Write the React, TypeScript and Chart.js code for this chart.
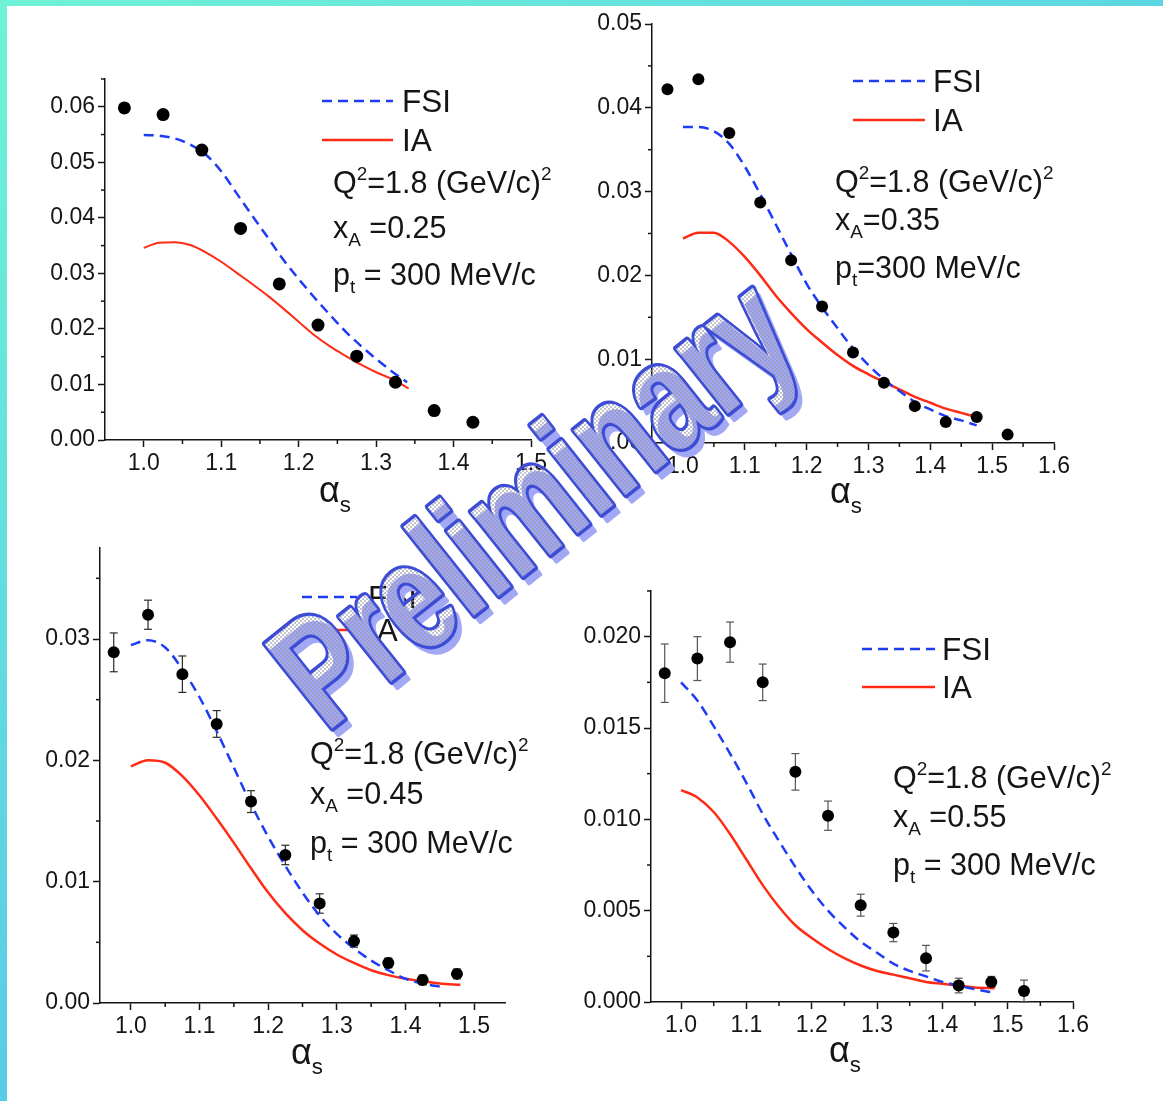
import { useEffect, useRef } from 'react';
import { Chart, registerables } from 'chart.js';

Chart.register(...registerables);

const PAGE_W = 1163;
const PAGE_H = 1101;
const FONT = '"Liberation Sans", Arial, Helvetica, sans-serif';
const BLUE = '#1f3cf5';
const RED = '#ff2b14';
const INK = '#151515';

const TICK_SIZE = 23;
const LEGEND_SIZE = 31.5;
const NOTE_SIZE = 30.5;
const TITLE_SIZE = 36;

// Shared labels
const seriesNames = ['FSI', 'IA'];
const q2Value = '1.8';
const ptValue = '300';
const xAValues = ['0.25', '0.35', '0.45', '0.55'];
const watermarkText = 'Preliminary';

// x_A = 0.25 : data points
const aDataX = [0.975, 1.025, 1.075, 1.125, 1.175, 1.225, 1.275, 1.325, 1.375, 1.425];
const aDataY = [0.0598, 0.0586, 0.0522, 0.0381, 0.0281, 0.0207, 0.0151, 0.0104, 0.0053, 0.0032];
// x_A = 0.25 : FSI curve
const aFsiX = [1.0, 1.02, 1.04, 1.06, 1.08, 1.1, 1.12, 1.14, 1.16, 1.18, 1.2, 1.22, 1.24, 1.26, 1.28, 1.3, 1.32, 1.34];
const aFsiY = [0.0549, 0.0548, 0.0543, 0.0532, 0.0514, 0.0484, 0.0444, 0.0404, 0.0365, 0.0325, 0.029, 0.0257, 0.0226, 0.0196, 0.017, 0.0146, 0.0124, 0.0104];
// x_A = 0.25 : IA curve
const aIaX = [1.0, 1.02, 1.04, 1.06, 1.08, 1.1, 1.12, 1.14, 1.16, 1.18, 1.2, 1.22, 1.24, 1.26, 1.28, 1.3, 1.32, 1.342];
const aIaY = [0.0346, 0.0355, 0.0356, 0.0351, 0.0338, 0.0321, 0.0301, 0.0281, 0.026, 0.0237, 0.0213, 0.0189, 0.0169, 0.0152, 0.0136, 0.0122, 0.011, 0.0093];

// x_A = 0.35
const bDataX = [0.975, 1.025, 1.075, 1.125, 1.175, 1.225, 1.275, 1.325, 1.375, 1.425, 1.475, 1.525];
const bDataY = [0.0422, 0.0434, 0.037, 0.0287, 0.0218, 0.0163, 0.0108, 0.0072, 0.0044, 0.0025, 0.0031, 0.001];
const bFsiX = [1.0, 1.025, 1.05, 1.075, 1.1, 1.125, 1.15, 1.175, 1.2, 1.225, 1.25, 1.275, 1.3, 1.325, 1.35, 1.375, 1.4, 1.425, 1.45, 1.475];
const bFsiY = [0.0377, 0.0377, 0.0372, 0.0357, 0.033, 0.0297, 0.0261, 0.0225, 0.019, 0.0162, 0.0137, 0.0113, 0.0093, 0.0076, 0.0062, 0.0049, 0.004, 0.0032, 0.0027, 0.0021];
const bIaX = [1.0, 1.025, 1.05, 1.075, 1.1, 1.125, 1.15, 1.175, 1.2, 1.225, 1.25, 1.275, 1.3, 1.325, 1.35, 1.375, 1.4, 1.425, 1.45, 1.475];
const bIaY = [0.0244, 0.0251, 0.0251, 0.024, 0.0222, 0.02, 0.0176, 0.0155, 0.0136, 0.012, 0.0105, 0.0092, 0.0082, 0.0073, 0.0064, 0.0055, 0.0048, 0.0041, 0.0036, 0.0031];

// x_A = 0.45
const cDataX = [0.975, 1.025, 1.075, 1.125, 1.175, 1.225, 1.275, 1.325, 1.375, 1.425, 1.475];
const cDataY = [0.0289, 0.032, 0.0271, 0.023, 0.0166, 0.0122, 0.0082, 0.0051, 0.0033, 0.0019, 0.0024];
const cDataErr = [0.0016, 0.0012, 0.0015, 0.0011, 0.0009, 0.0008, 0.0008, 0.0005, 0.0004, 0.0004, 0.0004];
const cFsiX = [1.0, 1.025, 1.05, 1.075, 1.1, 1.125, 1.15, 1.175, 1.2, 1.225, 1.25, 1.275, 1.3, 1.325, 1.35, 1.375, 1.4, 1.425, 1.455];
const cFsiY = [0.0295, 0.0299, 0.0293, 0.0275, 0.0252, 0.0224, 0.0194, 0.0164, 0.0137, 0.0113, 0.0091, 0.0072, 0.0057, 0.0045, 0.0035, 0.0027, 0.002, 0.0016, 0.0013];
const cIaX = [1.0, 1.025, 1.05, 1.075, 1.1, 1.125, 1.15, 1.175, 1.2, 1.225, 1.25, 1.275, 1.3, 1.325, 1.35, 1.375, 1.4, 1.425, 1.45, 1.48];
const cIaY = [0.0195, 0.02, 0.0198, 0.0187, 0.0171, 0.0152, 0.0132, 0.0111, 0.0091, 0.0074, 0.006, 0.0049, 0.004, 0.0033, 0.0027, 0.0023, 0.002, 0.0018, 0.0016, 0.0015];

// x_A = 0.55
const dDataX = [0.975, 1.025, 1.075, 1.125, 1.175, 1.225, 1.275, 1.325, 1.375, 1.425, 1.475, 1.525];
const dDataY = [0.018, 0.0188, 0.0197, 0.0175, 0.0126, 0.0102, 0.0053, 0.0038, 0.0024, 0.0009, 0.0011, 0.0006];
const dDataErr = [0.0016, 0.0012, 0.0011, 0.001, 0.001, 0.0008, 0.0006, 0.0005, 0.0007, 0.0004, 0.0003, 0.0006];
const dFsiX = [1.0, 1.025, 1.05, 1.075, 1.1, 1.125, 1.15, 1.175, 1.2, 1.225, 1.25, 1.275, 1.3, 1.325, 1.35, 1.375, 1.4, 1.425, 1.45, 1.48];
const dFsiY = [0.0175, 0.0165, 0.0151, 0.0136, 0.012, 0.0103, 0.0088, 0.0074, 0.0061, 0.005, 0.0041, 0.0033, 0.0027, 0.0021, 0.0017, 0.0014, 0.0011, 0.0009, 0.0007, 0.0005];
const dIaX = [1.0, 1.025, 1.05, 1.075, 1.1, 1.125, 1.15, 1.175, 1.2, 1.225, 1.25, 1.275, 1.3, 1.325, 1.35, 1.375, 1.4, 1.425, 1.45, 1.48];
const dIaY = [0.0116, 0.0112, 0.0104, 0.0092, 0.0078, 0.0064, 0.0052, 0.0042, 0.0035, 0.0029, 0.0024, 0.002, 0.0017, 0.0015, 0.0013, 0.0011, 0.001, 0.0009, 0.0008, 0.00075];

type Seg = { t: string; sub?: boolean; sup?: boolean };

interface Panel {
  left: number; top: number; right: number; bottom: number;
  xMin: number; xMax: number; yMax: number; yStep: number; yDigits: number;
  dataX: number[]; dataY: number[]; err?: number[]; errColor?: string;
  fsiX: number[]; fsiY: number[]; iaX: number[]; iaY: number[];
  radius: number; iaWidth: number;
  legend: { x1: number; x2: number; tx: number; yF: number; yI: number };
  notes: { x: number; base: number[]; lines: Seg[][] };
  title: { cx: number; base: number };
}

function noteLines(xA: string, compact: boolean): Seg[][] {
  const gap = compact ? '' : ' ';
  return [
    [{ t: 'Q' }, { t: '2', sup: true }, { t: `=${q2Value} (GeV/c)` }, { t: '2', sup: true }],
    [{ t: 'x' }, { t: 'A', sub: true }, { t: `${gap}=${xA}` }],
    [{ t: 'p' }, { t: 't', sub: true }, { t: `${gap}=${gap}${ptValue} MeV/c` }],
  ];
}

const panels: Panel[] = [
  {
    left: 105, top: 79, right: 531, bottom: 440,
    xMin: 0.95, xMax: 1.5, yMax: 0.065, yStep: 0.01, yDigits: 2,
    dataX: aDataX, dataY: aDataY, fsiX: aFsiX, fsiY: aFsiY, iaX: aIaX, iaY: aIaY,
    radius: 6.5, iaWidth: 2,
    legend: { x1: 322, x2: 393, tx: 402, yF: 101, yI: 140 },
    notes: { x: 333, base: [193, 238, 285], lines: noteLines(xAValues[0], false) },
    title: { cx: 335, base: 502 },
  },
  {
    left: 652, top: 24, right: 1054, bottom: 443,
    xMin: 0.95, xMax: 1.6, yMax: 0.05, yStep: 0.01, yDigits: 2,
    dataX: bDataX, dataY: bDataY, fsiX: bFsiX, fsiY: bFsiY, iaX: bIaX, iaY: bIaY,
    radius: 6, iaWidth: 2.5,
    legend: { x1: 853, x2: 925, tx: 933, yF: 81, yI: 120 },
    notes: { x: 835, base: [192, 230, 278], lines: noteLines(xAValues[1], true) },
    title: { cx: 846, base: 503 },
  },
  {
    left: 100, top: 548, right: 505, bottom: 1003,
    xMin: 0.955, xMax: 1.545, yMax: 0.0375, yStep: 0.01, yDigits: 2,
    dataX: cDataX, dataY: cDataY, err: cDataErr, errColor: '#2a2a2a', fsiX: cFsiX, fsiY: cFsiY, iaX: cIaX, iaY: cIaY,
    radius: 6, iaWidth: 2.5,
    legend: { x1: 302, x2: 357, tx: 368, yF: 597, yI: 630 },
    notes: { x: 310, base: [764, 804, 853], lines: noteLines(xAValues[2], false) },
    title: { cx: 307, base: 1064 },
  },
  {
    left: 651, top: 591, right: 1073, bottom: 1002,
    xMin: 0.954, xMax: 1.6, yMax: 0.0225, yStep: 0.005, yDigits: 3,
    dataX: dDataX, dataY: dDataY, err: dDataErr, errColor: '#555555', fsiX: dFsiX, fsiY: dFsiY, iaX: dIaX, iaY: dIaY,
    radius: 6, iaWidth: 2.5,
    legend: { x1: 862, x2: 935, tx: 942, yF: 649, yI: 687 },
    notes: { x: 893, base: [788, 827, 875], lines: noteLines(xAValues[3], false) },
    title: { cx: 845, base: 1062 },
  },
];

const Y_SCALE_W = 70;
const X_SCALE_H = 50;

function drawRich(ctx: CanvasRenderingContext2D, x: number, y: number, segs: Seg[], size: number) {
  let cx = x;
  for (const s of segs) {
    const small = s.sub || s.sup;
    const fs = small ? size * 0.62 : size;
    ctx.font = `${fs}px ${FONT}`;
    const dy = s.sup ? -size * 0.42 : s.sub ? size * 0.27 : 0;
    ctx.fillText(s.t, cx, y + dy);
    cx += ctx.measureText(s.t).width;
  }
}

function line(ctx: CanvasRenderingContext2D, x1: number, y1: number, x2: number, y2: number) {
  ctx.beginPath();
  ctx.moveTo(x1, y1);
  ctx.lineTo(x2, y2);
  ctx.stroke();
}

function makeDecor(p: Panel) {
  return {
    id: 'panelDecor',
    beforeDatasetsDraw(chart: any) {
      if (!p.err) return;
      const ctx: CanvasRenderingContext2D = chart.ctx;
      const xs = chart.scales.x;
      const ys = chart.scales.y;
      ctx.save();
      ctx.strokeStyle = p.errColor || '#333';
      ctx.lineWidth = 1.2;
      p.dataX.forEach((x, i) => {
        const e = p.err![i];
        const cx = xs.getPixelForValue(x);
        const y1 = ys.getPixelForValue(Math.max(0, p.dataY[i] - e));
        const y2 = ys.getPixelForValue(p.dataY[i] + e);
        line(ctx, cx, y1, cx, y2);
        line(ctx, cx - 4, y1, cx + 4, y1);
        line(ctx, cx - 4, y2, cx + 4, y2);
      });
      ctx.restore();
    },
    afterDraw(chart: any) {
      const ctx: CanvasRenderingContext2D = chart.ctx;
      const xs = chart.scales.x;
      const ys = chart.scales.y;
      const area = chart.chartArea;
      ctx.save();
      // minor ticks
      ctx.strokeStyle = INK;
      ctx.lineWidth = 1.5;
      for (let k = 0; (k + 0.5) * p.yStep <= p.yMax + 1e-9; k++) {
        const py = ys.getPixelForValue((k + 0.5) * p.yStep);
        line(ctx, area.left - 4, py, area.left, py);
      }
      for (let k = 0; ; k++) {
        const v = 1.05 + k * 0.1;
        if (v > p.xMax + 1e-9) break;
        const px = xs.getPixelForValue(v);
        line(ctx, px, area.bottom, px, area.bottom + 4);
      }
      // legend
      const lg = p.legend;
      ctx.lineWidth = 2.5;
      ctx.strokeStyle = BLUE;
      ctx.setLineDash([10, 6]);
      line(ctx, lg.x1, lg.yF, lg.x2, lg.yF);
      ctx.setLineDash([]);
      ctx.strokeStyle = RED;
      line(ctx, lg.x1, lg.yI, lg.x2, lg.yI);
      ctx.fillStyle = INK;
      ctx.textBaseline = 'alphabetic';
      ctx.textAlign = 'left';
      ctx.font = `${LEGEND_SIZE}px ${FONT}`;
      ctx.fillText(seriesNames[0], lg.tx, lg.yF + LEGEND_SIZE * 0.36);
      ctx.fillText(seriesNames[1], lg.tx, lg.yI + LEGEND_SIZE * 0.36);
      // kinematics
      p.notes.lines.forEach((segs, i) => drawRich(ctx, p.notes.x, p.notes.base[i], segs, NOTE_SIZE));
      // axis title alpha_s
      ctx.font = `${TITLE_SIZE}px ${FONT}`;
      const wa = ctx.measureText('\u03b1').width;
      ctx.font = `${TITLE_SIZE * 0.62}px ${FONT}`;
      const ws = ctx.measureText('s').width;
      const x0 = p.title.cx - (wa + ws) / 2;
      drawRich(ctx, x0, p.title.base, [{ t: '\u03b1' }, { t: 's', sub: true }], TITLE_SIZE);
      ctx.restore();
    },
  };
}

function makeConfig(p: Panel): any {
  const pts = (xs: number[], ys: number[]) => xs.map((x, i) => ({ x, y: ys[i] }));
  return {
    type: 'scatter',
    data: {
      datasets: [
        {
          label: 'data',
          data: pts(p.dataX, p.dataY),
          pointRadius: p.radius,
          pointBackgroundColor: '#000',
          pointBorderWidth: 0,
          showLine: false,
        },
        {
          label: seriesNames[0],
          data: pts(p.fsiX, p.fsiY),
          showLine: true,
          borderColor: BLUE,
          borderWidth: 2.5,
          borderDash: [10, 6],
          pointRadius: 0,
          cubicInterpolationMode: 'monotone',
          fill: false,
        },
        {
          label: seriesNames[1],
          data: pts(p.iaX, p.iaY),
          showLine: true,
          borderColor: RED,
          borderWidth: p.iaWidth,
          pointRadius: 0,
          cubicInterpolationMode: 'monotone',
          fill: false,
        },
      ],
    },
    options: {
      responsive: false,
      animation: false,
      devicePixelRatio: 1,
      events: [],
      layout: {
        autoPadding: false,
        padding: {
          left: p.left - Y_SCALE_W,
          top: p.top,
          right: PAGE_W - p.right,
          bottom: PAGE_H - p.bottom - X_SCALE_H,
        },
      },
      plugins: { legend: { display: false }, tooltip: { enabled: false } },
      scales: {
        x: {
          type: 'linear',
          min: p.xMin,
          max: p.xMax,
          afterFit: (s: any) => { s.height = X_SCALE_H; },
          ticks: {
            stepSize: 0.1,
            includeBounds: false,
            autoSkip: false,
            maxRotation: 0,
            padding: 3,
            color: INK,
            font: { family: FONT, size: TICK_SIZE },
            callback: (v: number) => Number(v).toFixed(1),
          },
          grid: { drawOnChartArea: false, drawTicks: true, tickLength: 7, tickColor: INK, tickWidth: 1.5 },
          border: { display: true, color: INK, width: 1.5 },
        },
        y: {
          type: 'linear',
          min: 0,
          max: p.yMax,
          afterFit: (s: any) => { s.width = Y_SCALE_W; },
          ticks: {
            stepSize: p.yStep,
            includeBounds: false,
            autoSkip: false,
            padding: 3,
            color: INK,
            font: { family: FONT, size: TICK_SIZE },
            callback: (v: number) => Number(v).toFixed(p.yDigits),
          },
          grid: { drawOnChartArea: false, drawTicks: true, tickLength: 7, tickColor: INK, tickWidth: 1.5 },
          border: { display: true, color: INK, width: 1.5 },
        },
      },
    },
    plugins: [makeDecor(p)],
  };
}

// Outlined, dithered "Preliminary" stamp laid over the four panels
function drawWatermark(canvas: HTMLCanvasElement) {
  const ctx = canvas.getContext('2d')!;
  ctx.clearRect(0, 0, PAGE_W, PAGE_H);
  const off = document.createElement('canvas');
  off.width = PAGE_W;
  off.height = PAGE_H;
  const o = off.getContext('2d')!;

  const ang = (-38.5 * Math.PI) / 180;
  const ox = 326;
  const oy = 733;
  const grow = 4; // glyph dilation (stroke width)
  const edge = 3.5; // outline thickness
  const font = `bold 156px ${FONT}`;

  const place = (c: CanvasRenderingContext2D, dx: number, dy: number) => {
    c.setTransform(1, 0, 0, 1, 0, 0);
    c.translate(ox + dx, oy + dy);
    c.rotate(ang);
    c.scale(0.72, 1);
    c.font = font;
    c.textBaseline = 'alphabetic';
    c.textAlign = 'left';
    c.lineJoin = 'round';
  };
  const blob = (c: CanvasRenderingContext2D, style: string, width: number) => {
    c.fillStyle = style;
    c.strokeStyle = style;
    c.fillText(watermarkText, 0, 0);
    if (width > 0) {
      c.lineWidth = width;
      c.strokeText(watermarkText, 0, 0);
    }
  };
  const reset = (c: CanvasRenderingContext2D) => {
    c.setTransform(1, 0, 0, 1, 0, 0);
    c.globalCompositeOperation = 'source-over';
  };

  // offset shadow
  place(ctx, 6, 7);
  blob(ctx, '#a2a8f3', grow);
  reset(ctx);

  // dithered body
  const tile = document.createElement('canvas');
  tile.width = 4;
  tile.height = 4;
  const t = tile.getContext('2d')!;
  t.fillStyle = 'rgba(150,150,170,0.55)';
  t.fillRect(0, 0, 2, 2);
  t.fillRect(2, 2, 2, 2);
  o.clearRect(0, 0, PAGE_W, PAGE_H);
  place(o, 0, 0);
  blob(o, '#000', grow);
  reset(o);
  o.globalCompositeOperation = 'source-in';
  o.fillStyle = o.createPattern(tile, 'repeat')!;
  o.fillRect(0, 0, PAGE_W, PAGE_H);
  reset(o);
  ctx.drawImage(off, 0, 0);

  // outline ring
  o.clearRect(0, 0, PAGE_W, PAGE_H);
  place(o, 0, 0);
  blob(o, '#3c4cd4', grow + edge);
  o.globalCompositeOperation = 'destination-out';
  blob(o, '#000', Math.max(0, grow - edge));
  reset(o);
  ctx.drawImage(off, 0, 0);
}

export default function App() {
  const refs = [useRef<HTMLCanvasElement>(null), useRef<HTMLCanvasElement>(null), useRef<HTMLCanvasElement>(null), useRef<HTMLCanvasElement>(null)];
  const markRef = useRef<HTMLCanvasElement>(null);

  useEffect(() => {
    const charts = panels.map((p, i) => new Chart(refs[i].current!, makeConfig(p)));
    if (markRef.current) drawWatermark(markRef.current);
    return () => charts.forEach((c) => c.destroy());
  }, []);

  const layer: React.CSSProperties = { position: 'absolute', left: 0, top: 0, width: PAGE_W, height: PAGE_H };

  return (
    <div style={{ position: 'absolute', left: 0, top: 0, width: PAGE_W, height: PAGE_H, overflow: 'hidden', background: '#fff' }}>
      <div style={{ position: 'absolute', left: 0, top: 0, width: PAGE_W, height: 6, background: 'linear-gradient(to right, #70f2d6, #5cd6e2)' }} />
      <div style={{ position: 'absolute', left: 0, top: 0, width: 7, height: PAGE_H, background: 'linear-gradient(to bottom, #70f2d6, #56cce6)' }} />
      {refs.map((r, i) => (
        <canvas key={i} ref={r} width={PAGE_W} height={PAGE_H} style={layer} />
      ))}
      <canvas ref={markRef} width={PAGE_W} height={PAGE_H} style={layer} />
    </div>
  );
}
